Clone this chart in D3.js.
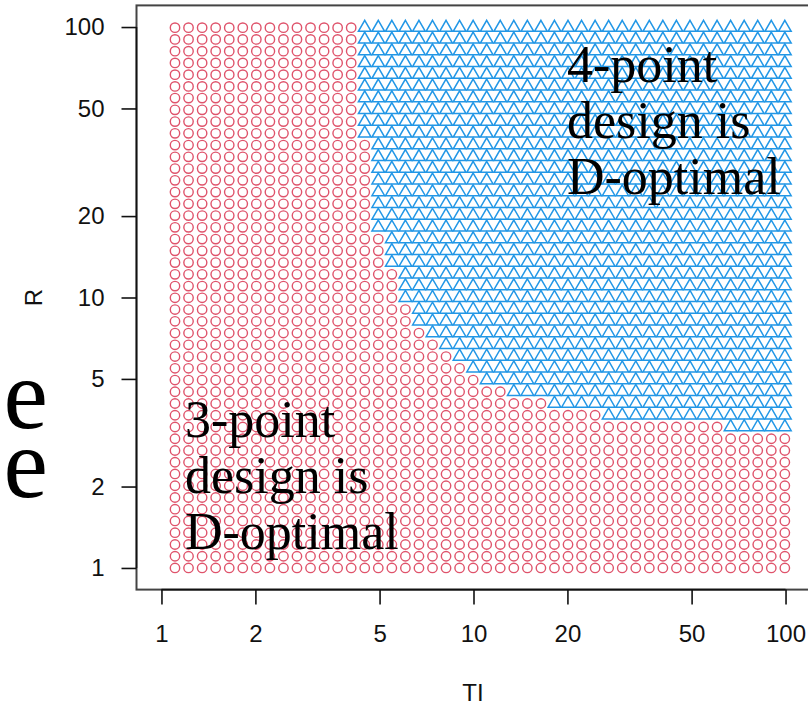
<!DOCTYPE html>
<html>
<head>
<meta charset="utf-8">
<script src="https://cdn.jsdelivr.net/npm/d3@7/dist/d3.min.js"></script>
<style>
  body { margin: 0; background: #fff; }
  svg { display: block; }
</style>
</head>
<body>
<svg id="chart" width="808" height="706"></svg>
<script>
// TI grid: exp(0.1), exp(0.2), ..., exp(4.6)
const tiValues = [1.105, 1.221, 1.350, 1.492, 1.649, 1.822, 2.014, 2.226, 2.460, 2.718,
  3.004, 3.320, 3.669, 4.055, 4.482, 4.953, 5.474, 6.050, 6.686, 7.389,
  8.166, 9.025, 9.974, 11.023, 12.182, 13.464, 14.880, 16.445, 18.174, 20.086,
  22.198, 24.533, 27.113, 29.964, 33.115, 36.598, 40.447, 44.701, 49.402, 54.598,
  60.340, 66.686, 73.700, 81.451, 90.017, 99.484];

// R grid: exp(0), exp(0.1), ..., exp(4.6)
const rValues = [1.000, 1.105, 1.221, 1.350, 1.492, 1.649, 1.822, 2.014, 2.226, 2.460,
  2.718, 3.004, 3.320, 3.669, 4.055, 4.482, 4.953, 5.474, 6.050, 6.686,
  7.389, 8.166, 9.025, 9.974, 11.023, 12.182, 13.464, 14.880, 16.445, 18.174,
  20.086, 22.198, 24.533, 27.113, 29.964, 33.115, 36.598, 40.447, 44.701, 49.402,
  54.598, 60.340, 66.686, 73.700, 81.451, 90.017, 99.484];

// For each TI column: index of the first R row at which the 4-point design is D-optimal
// (47 = none: the 3-point design wins over the whole column)
const fourPointFromRow = [47, 47, 47, 47, 47, 47, 47, 47, 47, 47,
  47, 47, 47, 47, 37, 29, 26, 23, 21, 20,
  19, 18, 17, 16, 16, 15, 15, 15, 14, 14,
  14, 14, 13, 13, 13, 13, 13, 13, 13, 13,
  13, 12, 12, 12, 12, 12];

const xTicks = [1, 2, 5, 10, 20, 50, 100];
const yTicks = [1, 2, 5, 10, 20, 50, 100];

const designColors = { three: "#DF536B", four: "#2297E6" };

const svg = d3.select("#chart");

// Plot region: log axes padded by 0.08 decades on each side
const plotLeft = 136.5, plotRight = 810.5, plotTop = 5.4, plotBottom = 589.6;
const x = d3.scaleLog().domain([Math.pow(10, -0.08), Math.pow(10, 2.08)]).range([plotLeft, plotRight]);
const y = d3.scaleLog().domain([Math.pow(10, -0.08), Math.pow(10, 2.08)]).range([plotBottom, plotTop]);

// Grid points, classified by the optimal design
const points = [];
tiValues.forEach((ti, i) => {
  rValues.forEach((r, j) => {
    points.push({ ti, r, four: j >= fourPointFromRow[i] });
  });
});

const pr = 4.7; // marker radius
const triPath = (cx, cy) => {
  const up = 1.5551 * pr, half = 1.3468 * pr, down = 0.7776 * pr;
  return `M${cx},${cy - up}L${cx + half},${cy + down}L${cx - half},${cy + down}Z`;
};

const gPts = svg.append("g");
gPts.selectAll("circle")
  .data(points.filter(d => !d.four))
  .join("circle")
  .attr("cx", d => x(d.ti))
  .attr("cy", d => y(d.r))
  .attr("r", pr)
  .attr("fill", "none")
  .attr("stroke", designColors.three)
  .attr("stroke-width", 1.4);

gPts.selectAll("path")
  .data(points.filter(d => d.four))
  .join("path")
  .attr("d", d => triPath(x(d.ti), y(d.r)))
  .attr("fill", "none")
  .attr("stroke", designColors.four)
  .attr("stroke-width", 1.5);

// Plot box
svg.append("rect")
  .attr("x", plotLeft).attr("y", plotTop)
  .attr("width", plotRight - plotLeft).attr("height", plotBottom - plotTop)
  .attr("fill", "none").attr("stroke", "#444").attr("stroke-width", 2);

// Axes
const tickLen = 15;
const labelFont = "'Liberation Sans', Arial, sans-serif";
const xAxis = d3.axisBottom(x).tickValues(xTicks).tickFormat(d3.format("d")).tickSize(tickLen).tickPadding(20);
const yAxis = d3.axisLeft(y).tickValues(yTicks).tickFormat(d3.format("d")).tickSize(tickLen).tickPadding(17);

const gx = svg.append("g").attr("transform", `translate(0,${plotBottom})`).call(xAxis);
const gy = svg.append("g").attr("transform", `translate(${plotLeft},0)`).call(yAxis);

[gx, gy].forEach(g => {
  g.select(".domain").remove();
  g.selectAll(".tick line").attr("stroke", "#111").attr("stroke-width", 1.6);
  g.selectAll(".tick text")
    .attr("fill", "#111")
    .style("font-family", labelFont)
    .style("font-size", "24px");
});

// Axis lines from first to last tick
svg.append("line")
  .attr("x1", x(1)).attr("x2", x(100)).attr("y1", plotBottom).attr("y2", plotBottom)
  .attr("stroke", "#111").attr("stroke-width", 1.6);
svg.append("line")
  .attr("y1", y(1)).attr("y2", y(100)).attr("x1", plotLeft).attr("x2", plotLeft)
  .attr("stroke", "#111").attr("stroke-width", 1.6);

// Axis titles
svg.append("text")
  .attr("x", 473).attr("y", 701)
  .attr("text-anchor", "middle")
  .style("font-family", labelFont)
  .style("font-size", "24px")
  .attr("fill", "#111")
  .text("TI");

svg.append("text")
  .attr("transform", "translate(42,297.5) rotate(-90)")
  .attr("text-anchor", "middle")
  .style("font-family", labelFont)
  .style("font-size", "24px")
  .attr("fill", "#111")
  .text("R");

// Region annotations
const serif = "'Liberation Serif', 'Times New Roman', serif";
const note = (lines, x0, y0) => {
  const t = svg.append("text")
    .attr("x", x0).attr("y", y0)
    .style("font-family", serif)
    .style("font-size", "52px")
    .attr("fill", "#000");
  lines.forEach((s, i) => {
    t.append("tspan").attr("x", x0).attr("dy", i === 0 ? 0 : 56).text(s);
  });
};
note(["4-point", "design is", "D-optimal"], 567, 82);
note(["3-point", "design is", "D-optimal"], 185, 437);

// Slide text running in from the left edge
[428, 497].forEach(by => {
  svg.append("text")
    .attr("x", 48).attr("y", by)
    .attr("text-anchor", "end")
    .style("font-family", serif)
    .style("font-size", "100px")
    .attr("fill", "#000")
    .text("e");
});
</script>
</body>
</html>
